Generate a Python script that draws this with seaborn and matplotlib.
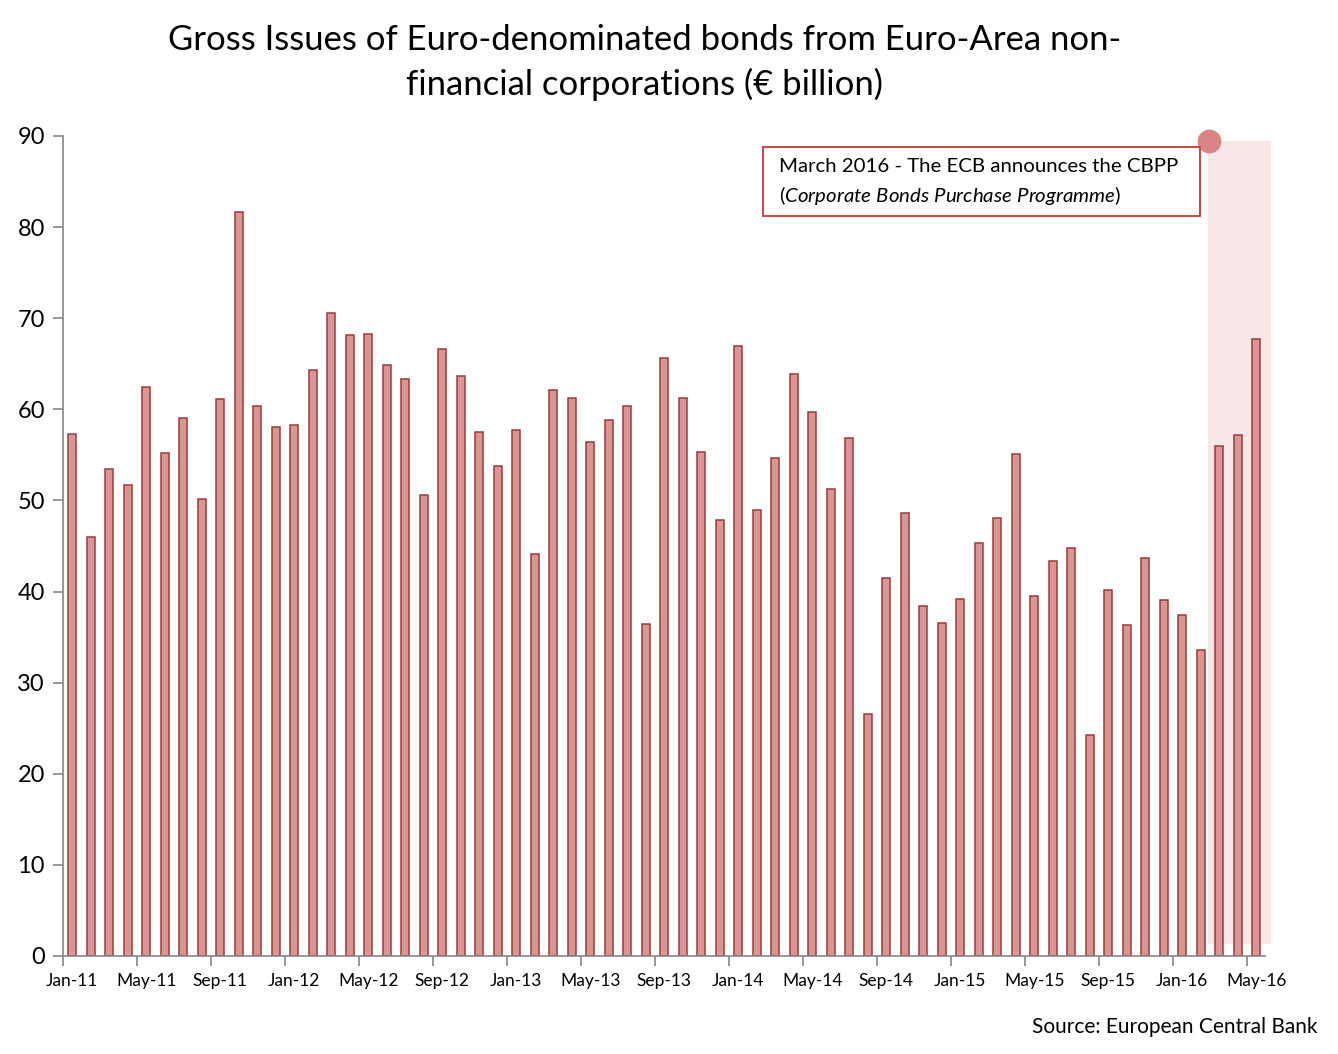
import matplotlib
matplotlib.use('Agg')
import matplotlib.pyplot as plt
import seaborn as sns
import pandas as pd
from matplotlib.patches import Rectangle

# monthly gross issues, Jan-11 .. May-16 (EUR billion)
years = ['11', '12', '13', '14', '15', '16']
month_names = ['Jan', 'Feb', 'Mar', 'Apr', 'May', 'Jun',
               'Jul', 'Aug', 'Sep', 'Oct', 'Nov', 'Dec']
months = [f'{m}-{y}' for y in years for m in month_names][:65]

issues = [57.3, 46.0, 53.5, 51.7, 62.4, 55.2, 59.0, 50.2, 61.1, 81.7, 60.4, 58.1,
          58.3, 64.3, 70.6, 68.2, 68.3, 64.9, 63.3, 50.6, 66.6, 63.7, 57.5, 53.8,
          57.7, 44.1, 62.1, 61.2, 56.4, 58.8, 60.4, 36.4, 65.6, 61.2, 55.3, 47.9,
          67.0, 48.9, 54.7, 63.9, 59.7, 51.3, 56.8, 26.6, 41.5, 48.6, 38.4, 36.6,
          39.2, 45.3, 48.1, 55.1, 39.5, 43.4, 44.8, 24.3, 40.2, 36.3, 43.7, 39.1,
          37.4, 33.6, 56.0, 57.2, 67.7]

df = pd.DataFrame({'month': months, 'issues': issues})

sns.set_theme(style='white')
plt.rcParams['font.family'] = ['Lato', 'DejaVu Sans']
plt.rcParams['text.color'] = 'black'
plt.rcParams['xtick.color'] = 'black'
plt.rcParams['ytick.color'] = 'black'
plt.rcParams['mathtext.fontset'] = 'custom'
plt.rcParams['mathtext.it'] = 'Lato:italic'
plt.rcParams['mathtext.rm'] = 'Lato'

fig = plt.figure(figsize=(13.38, 10.54), dpi=100)
ax = fig.add_axes([0.0471, 0.0930, 0.8987, 0.7780])

# highlighted CBPP period (drawn first so bars sit on top)
ax.add_patch(Rectangle((61.4, 1.3), 3.4, 88.1, facecolor='#F7E7E6',
                       edgecolor='none', zorder=0, clip_on=False))
ax.scatter([61.45], [89.4], s=260, color='#D98585', zorder=5, clip_on=False)

sns.barplot(data=df, x='month', y='issues', ax=ax, color='#D99694',
            width=0.45, edgecolor='#9B3B38', linewidth=1.1, saturation=1)
for p in ax.patches:
    p.set_zorder(2)

ax.set_xlim(-0.5, 64.5)
ax.set_ylim(0, 90)
ax.set_yticks(range(0, 91, 10))
ax.tick_params(axis='y', labelsize=17, length=7, width=1.2, color='#868686',
               labelcolor='black', left=True, pad=6)
major = list(range(0, 65, 4))
ax.set_xticks(major)
ax.set_xticklabels([months[i] for i in major], fontsize=12.5)
ax.set_xticks([i - 0.5 for i in major], minor=True)
ax.tick_params(axis='x', which='major', length=0, pad=12, labelcolor='black')
ax.tick_params(axis='x', which='minor', length=7, width=1.2, color='#868686',
               bottom=True)
ax.set_xlabel('')
ax.set_ylabel('')
for s in ['top', 'right']:
    ax.spines[s].set_visible(False)
for s in ['left', 'bottom']:
    ax.spines[s].set_color('#868686')
    ax.spines[s].set_linewidth(1.2)

# annotation box
ax.add_patch(Rectangle((0.582, 0.9024), 0.3634, 0.0841, transform=ax.transAxes,
                       facecolor='white', edgecolor='#C0504D', linewidth=1.5,
                       zorder=6, clip_on=False))
ax.text(0.5954, 0.9622, 'March 2016 - The ECB announces the CBPP',
        transform=ax.transAxes, fontsize=14.7, va='center', ha='left', zorder=7)
ax.text(0.5954, 0.928,
        r'($\mathit{Corporate\ Bonds\ Purchase\ Programme}$)',
        transform=ax.transAxes, fontsize=14.7, va='center', ha='left', zorder=7)

fig.text(0.4817, 0.962, 'Gross Issues of Euro-denominated bonds from Euro-Area non-',
         ha='center', va='center', fontsize=24.9)
fig.text(0.4817, 0.920, 'financial corporations (€ billion)',
         ha='center', va='center', fontsize=24.9)
fig.text(0.985, 0.026, 'Source: European Central Bank', ha='right',
         va='center', fontsize=15)

fig.savefig('out.png', dpi=100)
